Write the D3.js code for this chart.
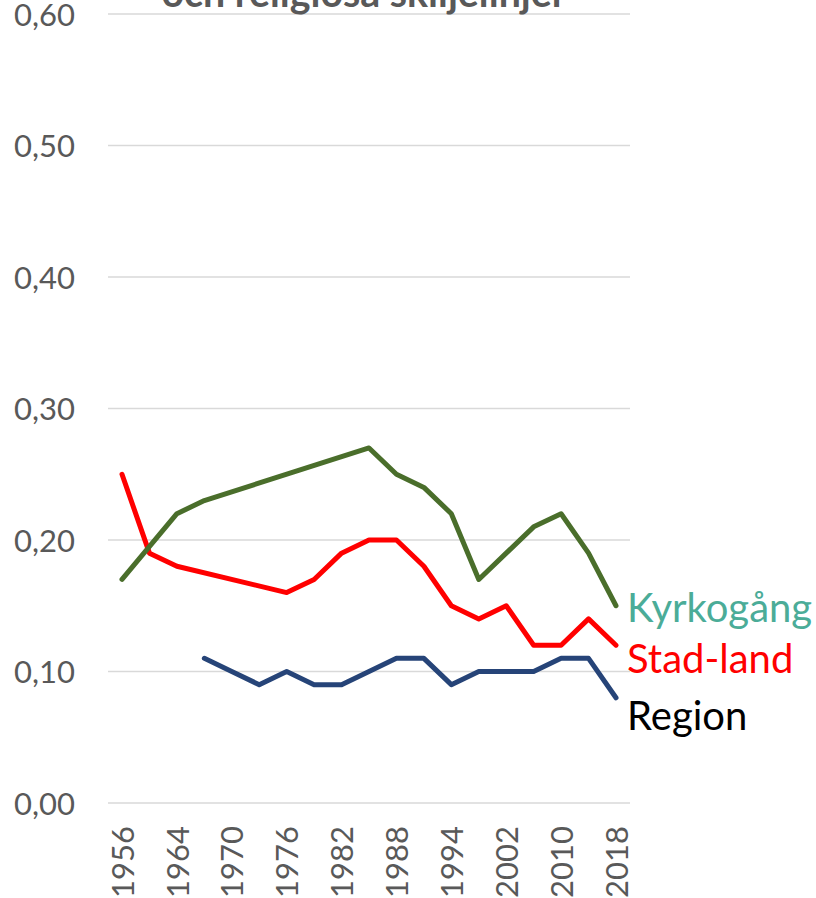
<!DOCTYPE html>
<meta charset="utf-8">
<body style="margin:0;background-color:white;">
<svg width="816" height="898"></svg>
<script src="https://d3js.org/d3.v7.min.js"></script>
<script>

// valår (kategoriaxel), var annan etikett visas
var years = [1956, 1960, 1964, 1968, 1970, 1973, 1976, 1979, 1982, 1985, 1988, 1991, 1994, 1998, 2002, 2006, 2010, 2014, 2018];
var kyrkogang = [0.17, null, 0.22, 0.23, null, null, null, null, null, 0.27, 0.25, 0.24, 0.22, 0.17, 0.19, 0.21, 0.22, 0.19, 0.15];
var stadLand = [0.25, 0.19, 0.18, null, null, null, 0.16, 0.17, 0.19, 0.20, 0.20, 0.18, 0.15, 0.14, 0.15, 0.12, 0.12, 0.14, 0.12];
var region = [null, null, null, 0.11, 0.10, 0.09, 0.10, 0.09, 0.09, 0.10, 0.11, 0.11, 0.09, 0.10, 0.10, 0.10, 0.11, 0.11, 0.08];
var yTicks = [0, 0.1, 0.2, 0.3, 0.4, 0.5, 0.6];
var seriesNames = ['Kyrkogång', 'Stad-land', 'Region'];
var labelAt = [0.1376, 0.0989, 0.0555];   // var etiketterna står (y-värde)
var title = 'och religiösa skiljelinjer';

var svg = d3.select('svg');
var font = 'Lato, "Open Sans", sans-serif';
var grey = '#595959';

var x = d3.scalePoint().domain(years).range([122, 616]);
var y = d3.scaleLinear().domain([0, 0.6]).range([803, 14]);
var fmt = function(v) { return d3.format('.2f')(v).replace('.', ','); };

// rutnät
svg.append('g').selectAll('line')
  .data(yTicks).enter().append('line')
  .attr('x1', 108).attr('x2', 630)
  .attr('y1', function(d) { return y(d); })
  .attr('y2', function(d) { return y(d); })
  .attr('stroke', '#d9d9d9')
  .attr('stroke-width', 1.5);

// y-axel
var yAxis = svg.append('g')
  .attr('transform', 'translate(75,0)')
  .call(d3.axisLeft(y).tickValues(yTicks).tickFormat(fmt).tickSize(0).tickPadding(0));
yAxis.select('.domain').remove();
yAxis.selectAll('text')
  .attr('font-family', font).attr('font-size', 31).attr('fill', grey)
  .attr('dy', '0.36em');

// x-axel, roterade årtal
var xAxis = svg.append('g')
  .attr('transform', 'translate(0,826)')
  .call(d3.axisBottom(x)
    .tickValues(years.filter(function(d, i) { return i % 2 == 0; }))
    .tickSize(0).tickPadding(0));
xAxis.select('.domain').remove();
xAxis.selectAll('text')
  .attr('font-family', font).attr('font-size', 31).attr('fill', grey)
  .attr('transform', 'rotate(-90)')
  .attr('text-anchor', 'end')
  .attr('x', 0).attr('y', 0)
  .attr('dy', '0.36em');

// linjer
function makeLine(values) {
  return d3.line()
    .x(function(d) { return x(d.year); })
    .y(function(d) { return y(d.v); })(
      years.map(function(yr, i) { return {year: yr, v: values[i]}; })
           .filter(function(d) { return d.v != null; })
    );
}

var series = [
  {vals: region, color: '#264478'},
  {vals: stadLand, color: '#ff0000'},
  {vals: kyrkogang, color: '#4a6e2b'}
];
svg.append('g').selectAll('path')
  .data(series).enter().append('path')
  .attr('d', function(s) { return makeLine(s.vals); })
  .attr('fill', 'none')
  .attr('stroke', function(s) { return s.color; })
  .attr('stroke-width', 5)
  .attr('stroke-linejoin', 'round')
  .attr('stroke-linecap', 'round');

// etiketter till höger
var labelColors = ['#4bac98', '#ff0000', '#000000'];
svg.append('g').selectAll('text')
  .data(seriesNames).enter().append('text')
  .attr('x', 627)
  .attr('y', function(d, i) { return y(labelAt[i]); })
  .attr('font-family', font).attr('font-size', 40)
  .attr('fill', function(d, i) { return labelColors[i]; })
  .text(function(d) { return d; });

// rubrik (avklippt upptill)
var t = svg.append('text')
  .attr('x', 364).attr('y', 7)
  .attr('text-anchor', 'middle')
  .attr('font-family', font).attr('font-weight', 'bold')
  .attr('font-size', 30).attr('fill', grey)
  .text(title);
var w = t.node().getComputedTextLength();
t.attr('font-size', 30 * 405 / w);

</script>
</body>
